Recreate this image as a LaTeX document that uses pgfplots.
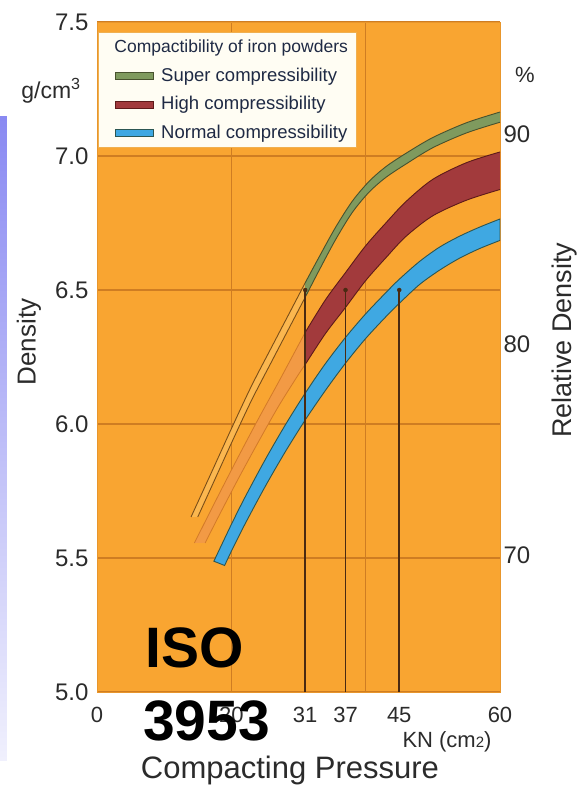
\documentclass[border=0pt]{standalone}
\usepackage{pgfplots}
\pgfplotsset{compat=1.18}
\usepackage{pgfplotstable}
\usepgfplotslibrary{fillbetween}
\usepackage{fontspec}
\setmainfont{Liberation Sans}

\definecolor{bgor}{HTML}{F9A531}
\definecolor{gridc}{HTML}{CF7D22}
\definecolor{framec}{HTML}{E8962C}
\definecolor{dropc}{HTML}{4A2A12}
\definecolor{greenf}{HTML}{7F9A5E}
\definecolor{greene}{HTML}{48522E}
\definecolor{supl}{HTML}{FBB74F}
\definecolor{supe}{HTML}{7A4E18}
\definecolor{redf}{HTML}{A23A3C}
\definecolor{rede}{HTML}{5E1A1A}
\definecolor{redl}{HTML}{F29A45}
\definecolor{redle}{HTML}{D37A28}
\definecolor{bluef}{HTML}{3FA8E2}
\definecolor{bluee}{HTML}{2C5652}
\definecolor{legbg}{HTML}{FFFDF3}
\definecolor{legedge}{HTML}{F0B050}
\definecolor{legtext}{HTML}{1F2A44}
\definecolor{labc}{HTML}{2B2B2B}

\pgfplotstableread{
x y
14.0 5.653
17 5.817
20 5.982
23 6.142
26 6.287
28.5 6.407
31 6.527
33 6.620
35.5 6.733
38 6.831
40.5 6.905
43 6.960
46 7.010
50 7.069
55 7.124
60 7.164
}\supT
\pgfplotstableread{
x y
15.0 5.653
17 5.763
20 5.928
23 6.088
26 6.233
28.5 6.353
31 6.473
33 6.570
35.5 6.687
38 6.789
40.5 6.865
43 6.920
46 6.970
50 7.031
55 7.086
60 7.126
}\supB
\pgfplotstableread{
x y
14.5 5.556
18 5.730
21 5.876
24 6.018
27 6.155
30 6.295
31 6.342
34 6.463
37 6.565
40 6.665
43 6.750
46 6.830
50 6.913
55 6.975
60 7.015
}\hiT
\pgfplotstableread{
x y
16.1 5.556
18 5.650
21 5.794
24 5.932
27 6.065
30 6.185
31 6.222
34 6.337
37 6.435
40 6.535
43 6.620
46 6.700
50 6.777
55 6.835
60 6.875
}\hiB
\pgfplotstableread{
x y
17.4 5.488
20 5.625
22 5.725
25 5.865
28 5.995
31 6.115
34 6.225
37 6.323
40 6.411
43 6.490
45 6.540
48 6.606
51 6.660
54 6.701
57 6.735
60 6.765
}\noT
\pgfplotstableread{
x y
19 5.472
20 5.525
22 5.625
25 5.765
28 5.895
31 6.015
34 6.125
37 6.227
40 6.319
43 6.400
45 6.450
48 6.520
51 6.574
54 6.619
57 6.655
60 6.685
}\noB

\begin{document}
\begin{tikzpicture}
\path (-97pt,-101pt) rectangle (490pt,692pt);
\shade[top color={rgb,255:red,138;green,138;blue,242}, bottom color={rgb,255:red,240;green,240;blue,253}] (-97pt,575pt) rectangle (-90pt,-68pt);
\begin{axis}[
  at={(0pt,0pt)}, anchor=south west, scale only axis,
  width=403pt, height=670pt,
  xmin=0, xmax=60, ymin=5, ymax=7.5,
  axis background/.style={fill=bgor},
  axis line style={draw=framec, line width=0.8pt},
  xtick={0,20,31,37,45,60},
  ytick={5,5.5,6,6.5,7,7.5},
  yticklabels={5.0,5.5,6.0,6.5,7.0,7.5},
  major tick length=0pt,
  ymajorgrids=true,
  extra x ticks={20,40}, extra x tick labels={},
  extra x tick style={grid=major},
  grid style={draw=gridc, line width=1.1pt},
  /pgf/number format/assume math mode=true,
  xticklabel style={font=\fontsize{22pt}{22pt}\selectfont, text=labc, yshift=-12pt},
  yticklabel style={font=\fontsize{24pt}{24pt}\selectfont, text=labc, xshift=-5pt},
  legend style={at={(0.045,0.933)}, anchor=north west, draw=none, fill=none,
    inner sep=0pt, font=\fontsize{18.5pt}{18.5pt}\selectfont, text=legtext,
    row sep=10.5pt, nodes={inner sep=0pt, text height=14pt, text depth=4pt},
    /tikz/every odd column/.append style={column sep=7pt}},
  legend cell align=left,
]
% super compressibility
\addplot[draw=none, smooth, name path=sT, forget plot] table {\supT};
\addplot[draw=none, smooth, name path=sB, forget plot] table {\supB};
\addplot[fill=supl, draw=none, forget plot] fill between[of=sT and sB, soft clip={domain=0:31}];
\addplot[fill=greenf, draw=none, forget plot] fill between[of=sT and sB, soft clip={domain=31:60}];
\addplot[supe, line width=0.9pt, smooth, restrict x to domain=0:31, forget plot] table {\supT};
\addplot[supe, line width=0.9pt, smooth, restrict x to domain=0:31, forget plot] table {\supB};
\addplot[greene, line width=0.9pt, smooth, restrict x to domain=31:60, forget plot] table {\supT};
\addplot[greene, line width=0.9pt, smooth, restrict x to domain=31:60, forget plot] table {\supB};
% high compressibility
\addplot[draw=none, smooth, name path=hT, forget plot] table {\hiT};
\addplot[draw=none, smooth, name path=hB, forget plot] table {\hiB};
\addplot[fill=redl, draw=none, forget plot] fill between[of=hT and hB, soft clip={domain=0:31}];
\addplot[fill=redf, draw=none, forget plot] fill between[of=hT and hB, soft clip={domain=31:60}];
\addplot[redle, line width=0.8pt, smooth, restrict x to domain=0:31, forget plot] table {\hiT};
\addplot[redle, line width=0.8pt, smooth, restrict x to domain=0:31, forget plot] table {\hiB};
\addplot[rede, line width=0.9pt, smooth, restrict x to domain=31:60, forget plot] table {\hiT};
\addplot[rede, line width=0.9pt, smooth, restrict x to domain=31:60, forget plot] table {\hiB};
% normal compressibility
\addplot[draw=none, smooth, name path=nT, forget plot] table {\noT};
\addplot[draw=none, smooth, name path=nB, forget plot] table {\noB};
\addplot[fill=bluef, draw=bluee, line width=0.9pt, forget plot] fill between[of=nT and nB];
% drop lines at 6.5 g/cm3
\addplot[dropc, line width=1.6pt, forget plot] coordinates {(31,5) (31,6.5)};
\addplot[dropc, line width=1.6pt, forget plot] coordinates {(37,5) (37,6.5)};
\addplot[dropc, line width=1.6pt, forget plot] coordinates {(45,5) (45,6.5)};
\addplot[only marks, mark=*, mark size=2pt, dropc, forget plot] coordinates {(31,6.5) (37,6.5) (45,6.5)};
% legend frame and title
\draw[draw=legedge, fill=legbg, line width=1pt] (rel axis cs:0.0025,0.985) rectangle (rel axis cs:0.645,0.812);
\node[font=\fontsize{17.5pt}{17.5pt}\selectfont, text=legtext] at (rel axis cs:0.333,0.961) {Compactibility of iron powders};
\addlegendimage{legend image code/.code={\draw[fill=greenf,draw=greene,line width=0.9pt] (0pt,-3.5pt) rectangle (38pt,3.5pt);}}
\addlegendentry{Super compressibility}
\addlegendimage{legend image code/.code={\draw[fill=redf,draw=rede,line width=0.9pt] (0pt,-3.5pt) rectangle (38pt,3.5pt);}}
\addlegendentry{High compressibility}
\addlegendimage{legend image code/.code={\draw[fill=bluef,draw=bluee,line width=0.9pt] (0pt,-3.5pt) rectangle (38pt,3.5pt);}}
\addlegendentry{Normal compressibility}
\end{axis}
\begin{axis}[
  at={(0pt,0pt)}, anchor=south west, scale only axis,
  width=403pt, height=670pt,
  xmin=0, xmax=60, ymin=5, ymax=7.5,
  axis x line=none, axis y line*=right,
  axis line style={draw=none},
  ytick={5.509,6.296,7.083}, yticklabels={70,80,90},
  major tick length=0pt,
  /pgf/number format/assume math mode=true,
  yticklabel style={font=\fontsize{24pt}{24pt}\selectfont, text=labc},
]
\addplot[draw=none, forget plot] coordinates {(0,5) (60,7.5)};
\end{axis}
% axis titles and units
\node[font=\fontsize{23pt}{23pt}\selectfont, text=labc, anchor=base] at (-46pt,593pt) {g/cm\textsuperscript{3}};
\node[font=\fontsize{26pt}{26pt}\selectfont, text=labc, rotate=90] at (-68pt,350pt) {Density};
\node[font=\fontsize{27pt}{27pt}\selectfont, text=labc, rotate=90] at (468pt,352pt) {Relative Density};
\node[font=\fontsize{22pt}{22pt}\selectfont, text=labc] at (428pt,617pt) {\%};
\node[font=\fontsize{22pt}{22pt}\selectfont, text=labc, anchor=base] at (350pt,-55pt) {KN (cm{\fontsize{15pt}{15pt}\selectfont 2})};
\node[font=\fontsize{31pt}{31pt}\selectfont, text=labc, anchor=base] at (193pt,-86pt) {Compacting Pressure};
% overlay text
\node[font=\fontsize{57pt}{57pt}\selectfont\bfseries, text=black, anchor=base west, inner sep=0pt] at (48pt,25pt) {ISO};
\node[font=\fontsize{57pt}{57pt}\selectfont\bfseries, text=black, anchor=base west, inner sep=0pt] at (46pt,-48pt) {3953};
\end{tikzpicture}
\end{document}
